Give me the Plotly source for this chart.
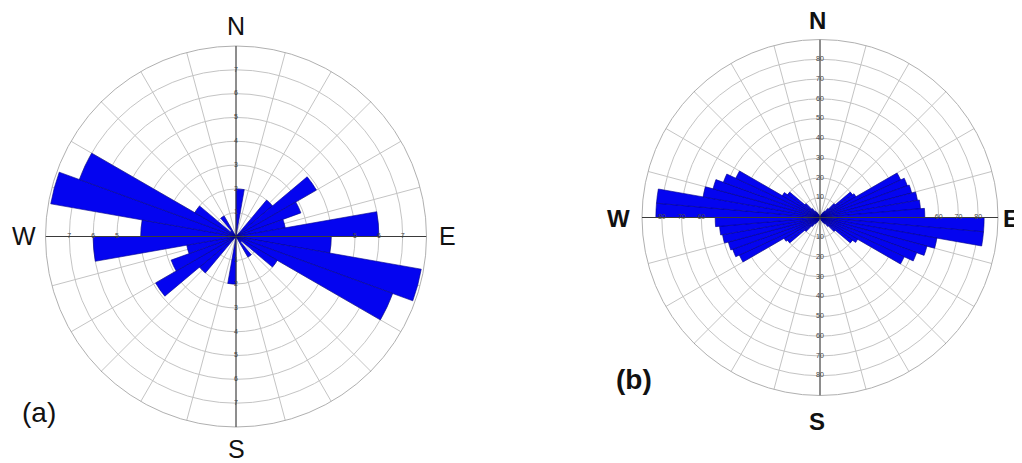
import plotly.graph_objects as go

# page has an 8px body margin, so the figure is placed 8px right/down
OFF = 8
W_PX, H_PX = 1022 - OFF, 463 - OFF

# ---------------- data ----------------
# (a) rose diagram: 10-degree bins over 0-180 (bidirectional, mirrored to 180-360)
a_bin_start = list(range(0, 180, 10))
a_values = [2.0, 0, 0, 0, 2.0, 3.9, 2.9, 2.1, 6.0, 4.0, 7.9, 7.0, 2.0, 0.3, 1.0, 0, 0, 0]
a_bin_width = 10
a_rings = [1, 2, 3, 4, 5, 6, 7, 8]
a_tick_vals = [1, 2, 3, 4, 5, 6, 7]
a_tick_text = ["1", "2", "3", "4", "5", "6", "7"]
a_rmax = 8

# (b) rose diagram: 5-degree bins over 0-180 (bidirectional, mirrored)
b_bin_start = list(range(0, 180, 5))
b_values = [0, 0, 0, 0, 0, 2, 3, 4, 6, 10, 20, 21,
            45, 47, 48, 50, 51, 53, 83, 83, 60, 56, 52, 47,
            22, 20, 10, 6, 4, 3, 2, 0, 0, 0, 0, 0]
b_bin_width = 5
b_rings = [10, 20, 30, 40, 50, 60, 70, 80, 90]
b_tick_vals = [10, 20, 30, 40, 50, 60, 70, 80]
b_tick_text = ["10", "20", "30", "40", "50", "60", "70", "80"]
b_rmax = 90

cardinal_dirs = [0, 90, 180, 270]
diag_dirs = [45, 135, 225, 315]
spoke_step = 15

BAR = "#0404f0"
BAR_EDGE = "#00008a"
GRID = "#c4c4c4"
AXIS = "#3a3a3a"

fig = go.Figure()


def value_at(starts, values, width, ang):
    """bar length of the bin that starts at angle ang (mirrored data)."""
    a = ang % 180
    for s, v in zip(starts, values):
        if abs(s - a) < 1e-9:
            return v
    return 0


def add_rose(subplot, starts, values, width, rmax, tvals, ttext, tick_font):
    thetas = [s + width / 2 for s in starts] + [s + 180 + width / 2 for s in starts]
    rs = list(values) + list(values)
    ext = rmax * 1.025
    # cardinal axis lines
    lr, lt = [], []
    for d in cardinal_dirs:
        lr += [0, ext, None]
        lt += [d, d, None]
    fig.add_trace(go.Scatterpolar(r=lr, theta=lt, mode="lines", subplot=subplot,
                                  line=dict(color=AXIS, width=1), cliponaxis=False,
                                  hoverinfo="skip", showlegend=False))
    # bars
    fig.add_trace(go.Barpolar(r=rs, theta=thetas, width=[width] * len(rs), subplot=subplot,
                              marker=dict(color=BAR, line=dict(color=BAR_EDGE, width=0.6)),
                              showlegend=False))
    # small diagonal ticks outside the circle
    dr, dt = [], []
    for d in diag_dirs:
        dr += [rmax * 1.0, rmax * 1.03, None]
        dt += [d, d, None]
    fig.add_trace(go.Scatterpolar(r=dr, theta=dt, mode="lines", subplot=subplot,
                                  line=dict(color=AXIS, width=1), cliponaxis=False,
                                  hoverinfo="skip", showlegend=False))
    # radial tick labels along the four cardinal axes (hidden where a bar covers them)
    tr, tth, txt = [], [], []
    for d in cardinal_dirs:
        cover = min(value_at(starts, values, width, d),
                    value_at(starts, values, width, d - width))
        for v, t in zip(tvals, ttext):
            if v > cover:
                tr.append(v)
                tth.append(d)
                txt.append(t)
    fig.add_trace(go.Scatterpolar(r=tr, theta=tth, text=txt, mode="text", subplot=subplot,
                                  textfont=tick_font, cliponaxis=False,
                                  hoverinfo="skip", showlegend=False))


add_rose("polar", a_bin_start, a_values, a_bin_width, a_rmax, a_tick_vals, a_tick_text,
         dict(size=7, color="#444444", family="Liberation Sans"))
add_rose("polar2", b_bin_start, b_values, b_bin_width, b_rmax, b_tick_vals, b_tick_text,
         dict(size=7, color="#444444", family="Liberation Sans"))


def polar_layout(cx, cy, rad, rmax, rings):
    cx, cy = cx - OFF, cy - OFF
    return dict(
        domain=dict(x=[(cx - rad) / W_PX, (cx + rad) / W_PX],
                    y=[(H_PX - (cy + rad)) / H_PX, (H_PX - (cy - rad)) / H_PX]),
        bgcolor="white",
        angularaxis=dict(rotation=90, direction="clockwise", tickmode="array",
                         tickvals=list(range(0, 360, spoke_step)), showticklabels=False,
                         ticks="", showgrid=True, gridcolor=GRID, gridwidth=1,
                         showline=True, linecolor="#b0b0b0", linewidth=1,
                         layer="below traces"),
        radialaxis=dict(range=[0, rmax], tickmode="array", tickvals=rings,
                        showticklabels=False, ticks="", showline=False,
                        showgrid=True, gridcolor=GRID, gridwidth=1,
                        layer="below traces"),
    )


fig.update_layout(
    width=W_PX, height=H_PX,
    margin=dict(l=0, r=0, t=0, b=0),
    paper_bgcolor="white", plot_bgcolor="white",
    showlegend=False,
    polar=polar_layout(236, 236.5, 190.5, a_rmax, a_rings),
    polar2=polar_layout(820, 217.5, 178, b_rmax, b_rings),
)


def px_ann(x, y, text, size, bold=False, anchor="center"):
    fam = "Liberation Sans"
    t = f"<b>{text}</b>" if bold else text
    fig.add_annotation(x=(x - OFF) / W_PX, y=1 - (y - OFF) / H_PX, xref="paper", yref="paper",
                       text=t, showarrow=False, xanchor=anchor, yanchor="middle",
                       font=dict(size=size, color="#111111", family=fam))


# (a) compass letters
px_ann(236, 26, "N", 25)
px_ann(24, 236, "W", 25)
px_ann(447, 236, "E", 25)
px_ann(236, 449, "S", 25)
px_ann(39, 412, "(a)", 28)
# (b) compass letters
px_ann(817, 20, "N", 24, bold=True)
px_ann(618, 218, "W", 24, bold=True)
px_ann(1021, 218, "E", 24, bold=True, anchor="right")
px_ann(817, 421, "S", 24, bold=True)
px_ann(634, 379, "(b)", 28, bold=True)

fig.write_html("out.html")
